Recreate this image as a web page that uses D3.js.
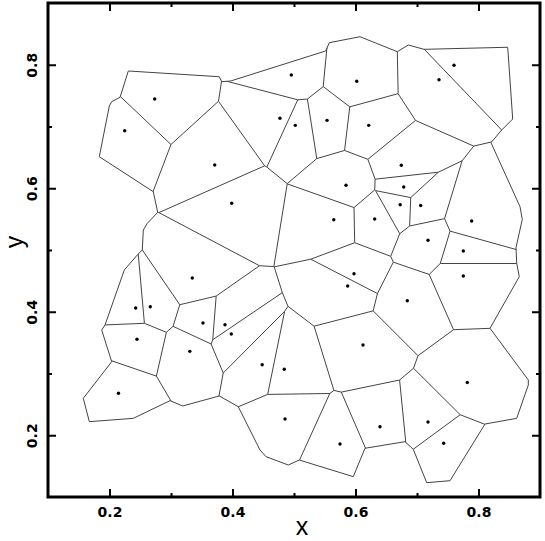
<!DOCTYPE html>
<html>
<head>
<meta charset="utf-8">
<script src="https://cdn.jsdelivr.net/npm/d3@7"></script>
<style>
  body { margin: 0; background: #fff; }
</style>
</head>
<body>
<svg id="chart"></svg>
<script>
const width = 545;
const height = 541;

// generator points (x, y)
const sites = [
  [0.2735, 0.7445], [0.2247, 0.6932], [0.3711, 0.6377], [0.3987, 0.5756],
  [0.4956, 0.7834], [0.4772, 0.7133], [0.5021, 0.7019], [0.6020, 0.7732],
  [0.7602, 0.7991], [0.7358, 0.7758], [0.5537, 0.7100], [0.6215, 0.7019],
  [0.6745, 0.6372], [0.5846, 0.6048], [0.6784, 0.6020], [0.6727, 0.5734],
  [0.7060, 0.5721], [0.6312, 0.5502], [0.5647, 0.5489], [0.3346, 0.4547],
  [0.2426, 0.4061], [0.2663, 0.4082], [0.3520, 0.3818], [0.3878, 0.3790],
  [0.3980, 0.3640], [0.2447, 0.3554], [0.3306, 0.3359], [0.4483, 0.3141],
  [0.4842, 0.3068], [0.2146, 0.2679], [0.7889, 0.5470], [0.7179, 0.5157],
  [0.7753, 0.4984], [0.5976, 0.4616], [0.5873, 0.4417], [0.7753, 0.4579],
  [0.6842, 0.4179], [0.6122, 0.3462], [0.7818, 0.2854], [0.4854, 0.2263],
  [0.5748, 0.1858], [0.6398, 0.2138], [0.7179, 0.2215], [0.7434, 0.1870]
];

// outer edge of the tessellation
const outline = [
  [0.2306, 0.7899], [0.3785, 0.7806], [0.3824, 0.7726], [0.3971, 0.7737],
  [0.5515, 0.8223], [0.5574, 0.8357], [0.6073, 0.8454], [0.6680, 0.8211],
  [0.6859, 0.8320], [0.7114, 0.8250], [0.8475, 0.8283], [0.8556, 0.7121],
  [0.8377, 0.6943], [0.8203, 0.6738], [0.8675, 0.5701], [0.8712, 0.5497],
  [0.8610, 0.5037], [0.8621, 0.4785], [0.8663, 0.4568], [0.8187, 0.3732],
  [0.8810, 0.2895], [0.8810, 0.2814], [0.8621, 0.2274], [0.8106, 0.2182],
  [0.7537, 0.1264], [0.7158, 0.1232], [0.6940, 0.1772], [0.6805, 0.1896],
  [0.6154, 0.1789], [0.5964, 0.1329], [0.5086, 0.1599], [0.4907, 0.1518],
  [0.4545, 0.1653], [0.4447, 0.1761], [0.4094, 0.2462], [0.3785, 0.2636],
  [0.3190, 0.2474], [0.2984, 0.2560], [0.2387, 0.2274], [0.1672, 0.2220],
  [0.1574, 0.2598], [0.2036, 0.3191], [0.1873, 0.3704], [0.1927, 0.3785],
  [0.2241, 0.4676], [0.2452, 0.4919], [0.2533, 0.5000], [0.2550, 0.5324],
  [0.2615, 0.5432], [0.2784, 0.5610], [0.2712, 0.5944], [0.1834, 0.6511],
  [0.1997, 0.7332], [0.2036, 0.7402], [0.2171, 0.7473]
];

const majorTicks = [0.2, 0.4, 0.6, 0.8];
const minorTicks = [0.3, 0.5, 0.7];
const tickLabels = ["0.2", "0.4", "0.6", "0.8"];

let svg = d3.select("#chart")
            .attr("width", width)
            .attr("height", height);

let x = d3.scaleLinear().domain([0.1, 0.9]).range([48, 540]);
let y = d3.scaleLinear().domain([0.1, 0.9]).range([497, 3]);

// voronoi cells, clipped to the outline
let pts = sites.map(d => [x(d[0]), y(d[1])]);
let voronoi = d3.Delaunay.from(pts).voronoi([48, 3, 540, 497]);
let outlinePts = outline.map(d => [x(d[0]), y(d[1])].join(",")).join(" ");

svg.append("clipPath")
    .attr("id", "hull")
  .append("polygon")
    .attr("points", outlinePts);

svg.append("path")
    .attr("d", voronoi.render())
    .attr("clip-path", "url(#hull)")
    .attr("fill", "none")
    .attr("stroke", "#444")
    .attr("stroke-width", 1);

svg.append("polygon")
    .attr("points", outlinePts)
    .attr("fill", "none")
    .attr("stroke", "#444")
    .attr("stroke-width", 1)
    .attr("stroke-linejoin", "round");

svg.append("g")
  .selectAll("circle")
  .data(sites)
  .enter()
  .append("circle")
    .attr("cx", d => x(d[0]))
    .attr("cy", d => y(d[1]))
    .attr("r", 1.7)
    .attr("fill", "#000");

// ticks on all four sides, pointing inward
function ticks(axis, pos, values, size) {
  let g = svg.append("g")
      .attr("transform", pos)
      .call(axis.tickValues(values).tickSize(-size).tickFormat(""));
  g.select(".domain").remove();
  g.selectAll("line").attr("stroke", "#000").attr("stroke-width", 2);
  return g;
}
ticks(d3.axisBottom(x), "translate(0,497)", minorTicks, 4);
ticks(d3.axisTop(x), "translate(0,3)", minorTicks, 4);
ticks(d3.axisLeft(y), "translate(48,0)", minorTicks, 4);
ticks(d3.axisRight(y), "translate(540,0)", minorTicks, 4);
ticks(d3.axisTop(x), "translate(0,3)", majorTicks, 8);
ticks(d3.axisRight(y), "translate(540,0)", majorTicks, 8);

let xAxis = ticks(d3.axisBottom(x).tickPadding(9.7), "translate(0,497)", majorTicks, 8);
xAxis.selectAll("text")
    .text((d, i) => tickLabels[i])
    .attr("font-family", "DejaVu Sans")
    .attr("font-weight", "bold")
    .attr("font-size", 14)
    .attr("fill", "#000");

let yAxis = ticks(d3.axisLeft(y), "translate(48,0)", majorTicks, 8);
yAxis.selectAll("text")
    .text((d, i) => tickLabels[i])
    .attr("x", 0)
    .attr("dy", 0)
    .attr("transform", "translate(-10.7,0) rotate(-90)")
    .attr("text-anchor", "middle")
    .attr("font-family", "DejaVu Sans")
    .attr("font-weight", "bold")
    .attr("font-size", 14)
    .attr("fill", "#000");

// frame
svg.append("rect")
    .attr("x", 48)
    .attr("y", 3)
    .attr("width", 492)
    .attr("height", 494)
    .attr("fill", "none")
    .attr("stroke", "#000")
    .attr("stroke-width", 3);

// axis titles
svg.append("text")
    .attr("x", 302)
    .attr("y", 535)
    .attr("text-anchor", "middle")
    .attr("font-family", "Liberation Sans")
    .attr("font-size", 25)
    .text("x");

svg.append("text")
    .attr("transform", "translate(22.5,242) rotate(-90)")
    .attr("text-anchor", "middle")
    .attr("font-family", "Liberation Sans")
    .attr("font-size", 25)
    .text("y");
</script>
</body>
</html>
